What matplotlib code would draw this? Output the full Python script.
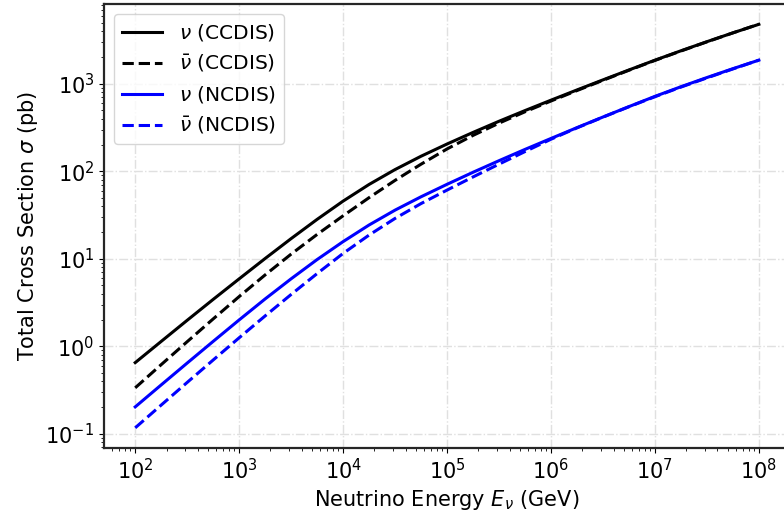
import numpy as np
import matplotlib
matplotlib.use("Agg")
import matplotlib.pyplot as plt

# neutrino energy (GeV), quarter-decade steps from 1e2 to 1e8
energy = np.logspace(2, 8, 25)

# total cross sections (pb)
nu_cc = [0.650, 1.136, 1.981, 3.432, 5.895, 10.07, 17.0, 28.2, 45.6, 70.7,
         104.6, 148.6, 204.9, 278.0, 372.9, 494.0, 649.4, 850.0, 1108.0,
         1438.0, 1860.0, 2382.0, 3026.0, 3819.0, 4780.0]
nubar_cc = [0.335, 0.6166, 1.128, 2.053, 3.698, 6.54, 11.30, 18.97, 30.97,
            49.94, 78.7, 120.5, 179.9, 257.0, 354.8, 478.6, 635.3, 836.6,
            1095.0, 1427.0, 1849.0, 2368.0, 3013.0, 3815.0, 4797.0]
nu_nc = [0.2028, 0.3617, 0.6429, 1.137, 2.0, 3.475, 5.902, 9.795, 15.70,
         24.32, 35.97, 51.11, 70.96, 97.39, 132.1, 177.8, 237.1, 315.2,
         416.9, 548.3, 717.8, 924.7, 1178.0, 1487.0, 1862.0]
nubar_nc = [0.1169, 0.2128, 0.3862, 0.6966, 1.250, 2.223, 3.908, 6.771,
            11.51, 18.66, 28.91, 42.76, 60.95, 86.10, 120.6, 167.9, 232.3,
            313.3, 415.5, 546.1, 711.2, 916.2, 1167.0, 1477.0, 1862.0]

plt.rcParams["font.size"] = 15

fig = plt.figure(figsize=(7.84, 5.14), dpi=100)
ax = fig.add_axes([0.1327, 0.1284, 0.875, 0.8638])

ax.plot(energy, nu_cc, "k-", lw=2.2, label=r"$\nu$ (CCDIS)")
ax.plot(energy, nubar_cc, "k--", lw=2.2, label=r"$\bar{\nu}$ (CCDIS)")
ax.plot(energy, nu_nc, "b-", lw=2.2, label=r"$\nu$ (NCDIS)")
ax.plot(energy, nubar_nc, "b--", lw=2.2, label=r"$\bar{\nu}$ (NCDIS)")

ax.set_xscale("log")
ax.set_yscale("log")
ax.set_xlabel(r"Neutrino Energy $E_\nu$ (GeV)")
ax.set_ylabel(r"Total Cross Section $\sigma$ (pb)")
ax.grid(True, which="major", color="0.88", linestyle="-.", lw=1)
for s in ax.spines.values():
    s.set_linewidth(1.6)
    s.set_color("0.15")
ax.legend(loc="upper left", fontsize=14.5)

fig.savefig("out.png", dpi=100)
